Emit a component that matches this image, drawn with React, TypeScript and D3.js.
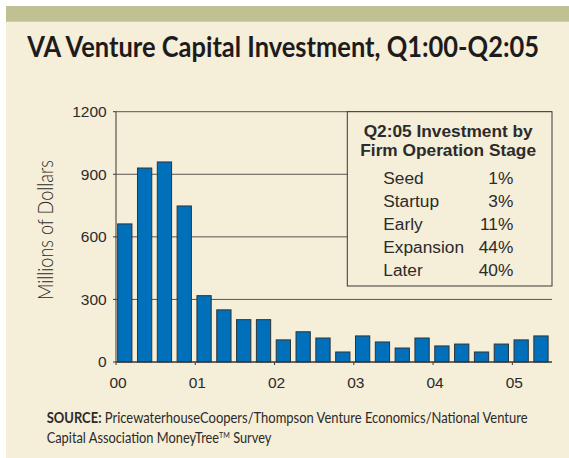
import * as d3 from 'd3';
import React, { useEffect, useRef } from 'react';

// quarterly VA venture capital investment, millions of dollars (Q1:00 .. Q2:05)
const quarters = [
  'Q1:00', 'Q2:00', 'Q3:00', 'Q4:00',
  'Q1:01', 'Q2:01', 'Q3:01', 'Q4:01',
  'Q1:02', 'Q2:02', 'Q3:02', 'Q4:02',
  'Q1:03', 'Q2:03', 'Q3:03', 'Q4:03',
  'Q1:04', 'Q2:04', 'Q3:04', 'Q4:04',
  'Q1:05', 'Q2:05'
];
const investment = [
  662, 930, 959, 748,
  318, 250, 203, 203,
  106, 145, 115, 48,
  125, 96, 67, 115,
  77, 86, 48, 86,
  106, 125
];
const yearLabels = ['00', '01', '02', '03', '04', '05'];
const yTicks = [0, 300, 600, 900, 1200];

// legend box
const stages = ['Seed', 'Startup', 'Early', 'Expansion', 'Later'];
const stageShares = [1, 3, 11, 44, 40];

const W = 569;
const H = 458;

// squeeze a text horizontally to a given width (the reference uses a condensed face)
const fitText = (sel: any, x: number, y: number, width: number, rotate = 0) => {
  const node = sel.node() as SVGTextElement;
  const natural = node.getComputedTextLength() || width;
  const sx = width / natural;
  sel.attr('transform', `translate(${x},${y}) rotate(${rotate}) scale(${sx},1)`);
};

const App = () => {
  const ref = useRef<SVGSVGElement>(null);

  useEffect(() => {
    const svg = d3.select(ref.current);
    svg.selectAll('*').remove();

    const margin = { top: 111.7, right: 17, bottom: 96, left: 116 };
    const x0 = margin.left;
    const x1 = W - margin.right;
    const y0 = H - margin.bottom;
    const y1 = margin.top;

    const darkText = '#2b2b2b';
    const condensed = 'Lato, "Open Sans", sans-serif';
    const arial = '"Liberation Sans", Arial, sans-serif';

    // background panel + green strip
    svg.append('rect')
      .attr('x', 6).attr('y', 6)
      .attr('width', W - 6).attr('height', H - 6)
      .attr('fill', '#f5eed8');
    svg.append('rect')
      .attr('x', 6).attr('y', 6)
      .attr('width', W - 6).attr('height', 15.7)
      .attr('fill', '#bfc192');

    const title = svg.append('text')
      .style('font-family', condensed)
      .style('font-weight', 700)
      .style('font-size', '28px')
      .style('fill', '#1e1b1c')
      .text('VA Venture Capital Investment, Q1:00-Q2:05');
    fitText(title, 27.3, 56.7, 512);

    const xBand = d3.scaleBand()
      .domain(quarters)
      .range([x0, x1])
      .paddingInner(0.28)
      .paddingOuter(0.14)
      .align(0.3);
    // continuous scale for year tick positions (in quarters)
    const xTime = d3.scaleLinear()
      .domain([0, quarters.length])
      .range([x0, x1]);
    const y = d3.scaleLinear()
      .domain([0, 1200])
      .range([y0, y1]);

    const g = svg.append('g');

    // gridlines
    g.selectAll('.grid')
      .data(yTicks.filter(d => d > 0))
      .enter().append('line')
      .attr('class', 'grid')
      .attr('x1', x0).attr('x2', x1)
      .attr('y1', d => y(d)).attr('y2', d => y(d))
      .attr('stroke', '#5a5650')
      .attr('stroke-width', 1);

    // y axis
    g.append('line')
      .attr('x1', x0).attr('x2', x0)
      .attr('y1', y(1200)).attr('y2', y(0))
      .attr('stroke', '#3a3835');
    g.selectAll('.ytick')
      .data(yTicks)
      .enter().append('line')
      .attr('x1', x0 - 3).attr('x2', x0)
      .attr('y1', d => y(d)).attr('y2', d => y(d))
      .attr('stroke', '#3a3835');
    g.selectAll('.ylabel')
      .data(yTicks)
      .enter().append('text')
      .attr('x', 106.7)
      .attr('y', d => y(d) + 5.3)
      .attr('text-anchor', 'end')
      .style('font-family', arial)
      .style('font-size', '15.5px')
      .style('fill', darkText)
      .text(d => d);

    const yTitle = svg.append('text')
      .attr('text-anchor', 'middle')
      .style('font-family', condensed)
      .style('font-weight', 300)
      .style('font-size', '21px')
      .style('fill', darkText)
      .text('Millions of Dollars');
    fitText(yTitle, 52.7, 230, 140, -90);

    // bars
    g.selectAll('.bar')
      .data(investment)
      .enter().append('rect')
      .attr('class', 'bar')
      .attr('x', (d, i) => xBand(quarters[i]) as number)
      .attr('y', d => y(d))
      .attr('width', xBand.bandwidth())
      .attr('height', d => y0 - y(d))
      .attr('fill', '#0070bb')
      .attr('stroke', '#2f3336')
      .attr('stroke-width', 1);

    // x axis
    g.append('line')
      .attr('x1', x0).attr('x2', x1)
      .attr('y1', y0).attr('y2', y0)
      .attr('stroke', '#3a3835')
      .attr('stroke-width', 1.3);
    g.selectAll('.xtick')
      .data(yearLabels)
      .enter().append('line')
      .attr('x1', (d, i) => xTime(i * 4)).attr('x2', (d, i) => xTime(i * 4))
      .attr('y1', y0).attr('y2', y0 + 3)
      .attr('stroke', '#3a3835');
    g.selectAll('.xlabel')
      .data(yearLabels)
      .enter().append('text')
      .attr('x', (d, i) => xTime(i * 4) + 2)
      .attr('y', 388)
      .attr('text-anchor', 'middle')
      .style('font-family', arial)
      .style('font-size', '15.5px')
      .style('fill', darkText)
      .text(d => d);

    // legend box
    const box = { left: 347.3, top: y(1200), right: x1, bottom: 286 };
    const lg = svg.append('g');
    lg.append('rect')
      .attr('x', box.left).attr('y', box.top)
      .attr('width', box.right - box.left)
      .attr('height', box.bottom - box.top)
      .attr('fill', '#f5eed8')
      .attr('stroke', '#3a3835')
      .attr('stroke-width', 1);
    const cx = (box.left + box.right) / 2 - 1.5;
    lg.selectAll('.lgtitle')
      .data(['Q2:05 Investment by', 'Firm Operation Stage'])
      .enter().append('text')
      .attr('x', cx)
      .attr('y', (d, i) => 137 + i * 18.7)
      .attr('text-anchor', 'middle')
      .style('font-family', arial)
      .style('font-weight', 700)
      .style('font-size', '17.3px')
      .style('fill', darkText)
      .text(d => d);
    lg.selectAll('.lgname')
      .data(stages)
      .enter().append('text')
      .attr('x', 383.3)
      .attr('y', (d, i) => 184 + i * 23)
      .style('font-family', arial)
      .style('font-size', '17.3px')
      .style('fill', darkText)
      .text(d => d);
    lg.selectAll('.lgval')
      .data(stageShares)
      .enter().append('text')
      .attr('x', 513.3)
      .attr('y', (d, i) => 184 + i * 23)
      .attr('text-anchor', 'end')
      .style('font-family', arial)
      .style('font-size', '17.3px')
      .style('fill', darkText)
      .text(d => d + '%');

    // source note
    const src1 = svg.append('text')
      .style('font-family', condensed)
      .style('font-size', '14.5px')
      .style('fill', darkText);
    src1.append('tspan').style('font-weight', 700).text('SOURCE:');
    src1.append('tspan').text(' PricewaterhouseCoopers/Thompson Venture Economics/National Venture');
    fitText(src1, 46.7, 423.3, 481);
    const src2 = svg.append('text')
      .style('font-family', condensed)
      .style('font-size', '14.5px')
      .style('fill', darkText);
    src2.append('tspan').text('Capital Association MoneyTree');
    src2.append('tspan').attr('dy', -5).style('font-size', '8px').text('TM');
    src2.append('tspan').attr('dy', 5).text(' Survey');
    fitText(src2, 46.7, 442.7, 225);
  }, []);

  return (
    <svg
      ref={ref}
      width={W}
      height={H}
      style={{ position: 'absolute', left: 0, top: 0, background: '#fff' }}
    />
  );
};

export default App;
